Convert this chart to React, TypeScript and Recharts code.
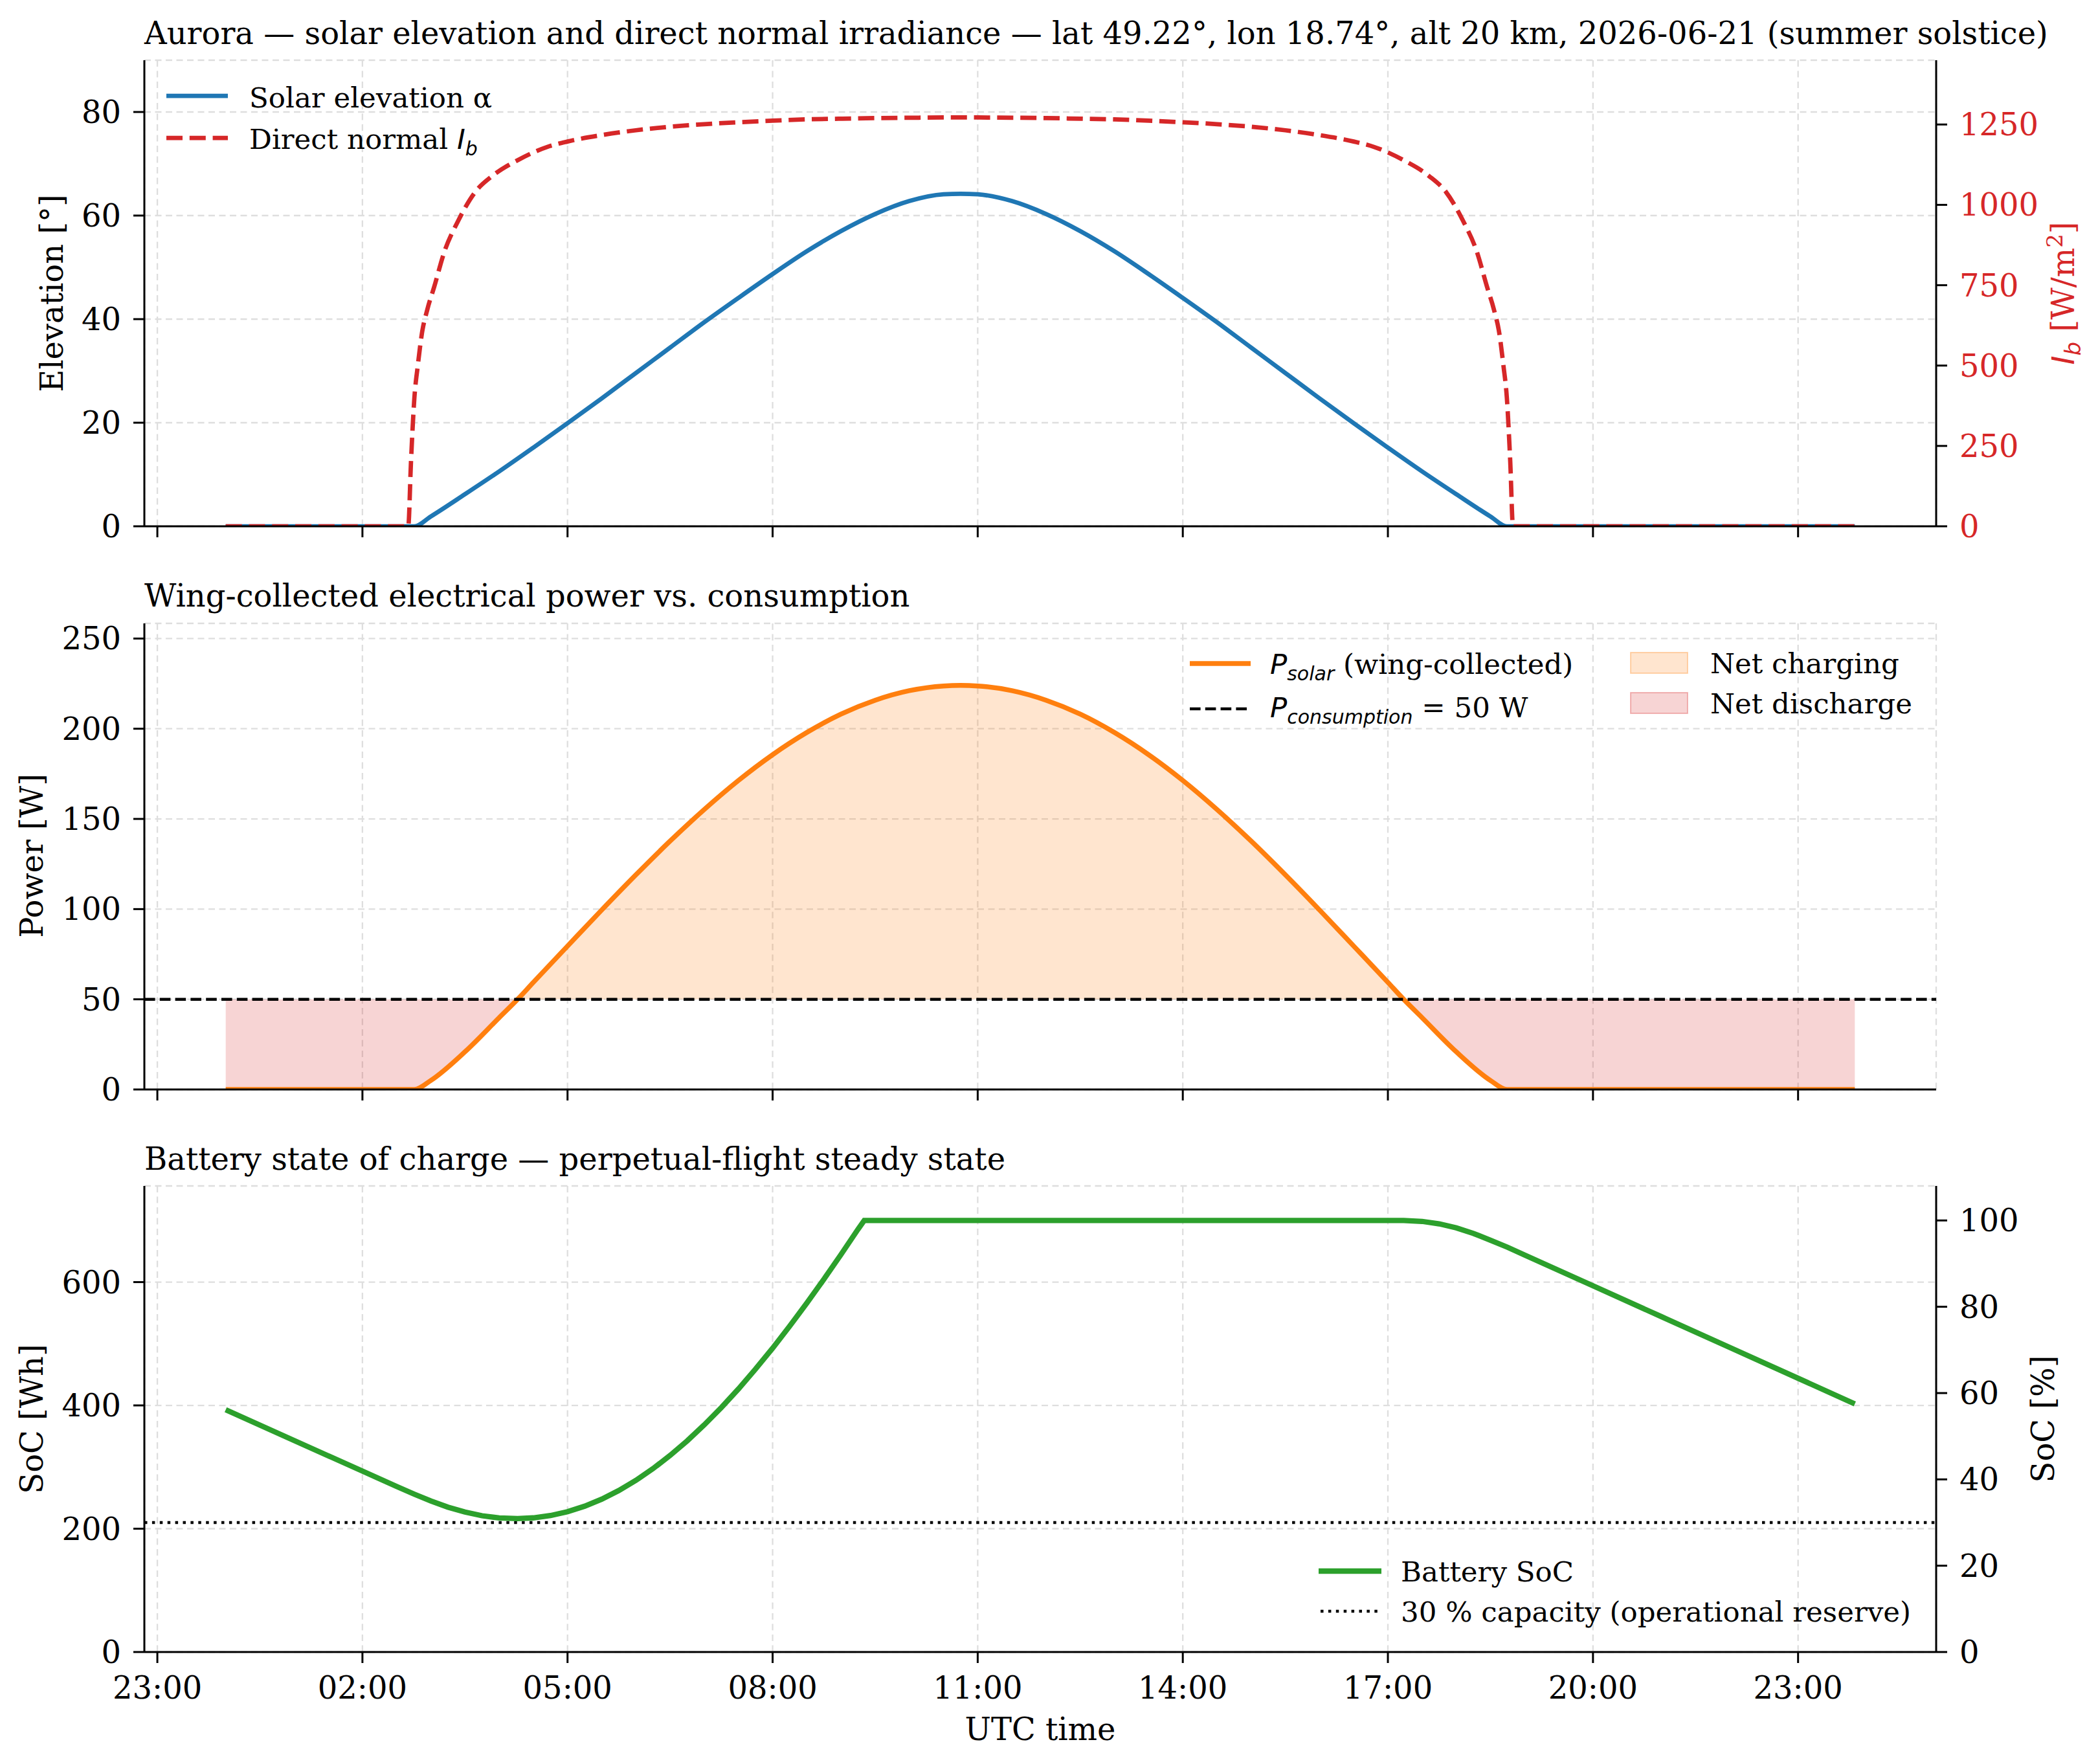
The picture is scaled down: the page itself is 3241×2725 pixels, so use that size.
import { ComposedChart, Line, Area, XAxis, YAxis, CartesianGrid, ReferenceLine } from "recharts";

// time axis (hours UTC on 2026-06-21)
const hourTicks = [-1, 2, 5, 8, 11, 14, 17, 20, 23];
const hourLabels = ["23:00", "02:00", "05:00", "08:00", "11:00", "14:00", "17:00", "20:00", "23:00"];

// solar elevation [deg]
const elevT = [0, 1, 2, 2.5, 2.76, 3, 3.5, 4, 4.5, 5, 5.5, 6, 6.5, 7, 7.5, 8, 8.5, 9, 9.5, 10, 10.5, 10.75, 11, 11.5, 12, 12.5, 13, 13.5, 14, 14.5, 15, 15.5, 16, 16.5, 17, 17.5, 18, 18.5, 18.74, 19, 20, 21, 22, 23, 23.83];
const elevDeg = [0, 0, 0, 0, 0, 1.9, 6.2, 10.6, 15.2, 19.9, 24.7, 29.6, 34.5, 39.4, 44.1, 48.7, 53.1, 57.0, 60.3, 62.8, 64.1, 64.2, 64.1, 62.8, 60.3, 57.0, 53.1, 48.7, 44.1, 39.4, 34.5, 29.6, 24.7, 19.9, 15.2, 10.6, 6.2, 1.9, 0, 0, 0, 0, 0, 0, 0];

// direct normal irradiance [W/m2]
const ibT = [0, 1, 2, 2.5, 2.67, 2.71, 2.76, 2.81, 2.87, 2.95, 3.05, 3.2, 3.4, 3.65, 3.9, 4.28, 4.7, 5, 5.5, 6, 6.5, 7, 7.5, 8, 8.5, 9, 9.5, 10, 10.75, 11.5, 12, 12.5, 13, 13.5, 14, 14.5, 15, 15.5, 16, 16.5, 16.8, 17.22, 17.6, 17.85, 18.1, 18.3, 18.45, 18.55, 18.63, 18.69, 18.74, 18.79, 18.83, 19, 20, 21, 22, 23, 23.83];
const ibVal = [0, 0, 0, 0, 0, 200, 400, 500, 600, 675, 745, 855, 950, 1040, 1090, 1140, 1180, 1197, 1217, 1232, 1243, 1251, 1257, 1262, 1266, 1268, 1270, 1271, 1272, 1271, 1270, 1268, 1266, 1262, 1257, 1251, 1243, 1232, 1217, 1197, 1180, 1140, 1090, 1040, 950, 855, 745, 675, 600, 500, 400, 200, 0, 0, 0, 0, 0, 0, 0];

// wing-collected power [W]
const powerT = [0, 1, 2, 2.5, 2.76, 3, 3.5, 4, 4.27, 4.5, 5, 5.5, 6, 6.5, 7, 7.5, 8, 8.5, 9, 9.5, 10, 10.5, 10.75, 11, 11.5, 12, 12.5, 13, 13.5, 14, 14.5, 15, 15.5, 16, 16.5, 17, 17.23, 17.5, 18, 18.5, 18.74, 19, 20, 21, 22, 23, 23.83];
const powerW = [0, 0, 0, 0, 0, 5.0, 20.9, 39.8, 50, 59.4, 79.5, 99.5, 119.0, 137.7, 155.2, 171.3, 185.6, 197.9, 208.1, 215.8, 221.1, 223.7, 224.0, 223.7, 221.1, 215.8, 208.1, 197.9, 185.6, 171.3, 155.2, 137.7, 119.0, 99.5, 79.5, 59.4, 50, 39.8, 20.9, 5.0, 0, 0, 0, 0, 0, 0, 0];
const P_CONSUMPTION = 50;

// battery state of charge [Wh]
const socT = [0, 1, 2, 2.5, 2.76, 3, 3.25, 3.5, 3.75, 4, 4.27, 4.5, 4.75, 5, 5.25, 5.5, 5.75, 6, 6.25, 6.5, 6.75, 7, 7.25, 7.5, 7.75, 8, 8.25, 8.5, 8.75, 9, 9.25, 9.34, 10, 12, 14, 16, 17, 17.23, 17.5, 17.75, 18, 18.25, 18.5, 18.75, 19, 20, 21, 22, 23, 23.83];
const socWh = [393, 343, 293.5, 268.5, 256, 245, 235, 227, 221, 217.5, 216.5, 217.6, 221.3, 227.6, 236.5, 247.9, 261.9, 278.4, 297.4, 318.8, 342.5, 368.4, 396.5, 426.7, 458.9, 492.8, 528.6, 565.9, 604.6, 644.7, 685.9, 700, 700, 700, 700, 700, 700, 700, 698.5, 694.5, 688, 679, 668, 656.5, 644, 594, 544, 494, 444, 402.5];
const CAPACITY = 700;
const RESERVE = 0.3 * CAPACITY;

const elevTicks = [0, 20, 40, 60, 80];
const ibTicks = [0, 250, 500, 750, 1000, 1250];
const powerTicks = [0, 50, 100, 150, 200, 250];
const socTicks = [0, 200, 400, 600];
const pctTicks = [0, 20, 40, 60, 80, 100];

const BLUE = "#1f77b4";
const RED = "#d62728";
const ORANGE = "#ff7f0e";
const GREEN = "#2ca02c";
const SERIF = "DejaVu Serif";
const MATH = "DejaVu Sans";

const elevRows = elevT.map((t, i) => ({ t, v: elevDeg[i] }));
const ibRows = ibT.map((t, i) => ({ t, v: ibVal[i] }));
const powerRows = powerT.map((t, i) => ({ t, v: powerW[i] }));
const chargeRows = powerT.map((t, i) => ({ t, range: [P_CONSUMPTION, Math.max(P_CONSUMPTION, powerW[i])] }));
const dischargeRows = powerT.map((t, i) => ({ t, range: [Math.min(P_CONSUMPTION, powerW[i]), P_CONSUMPTION] }));
const socRows = socT.map((t, i) => ({ t, v: socWh[i] }));
const pctRows = socT.map((t, i) => ({ t, v: (socWh[i] / CAPACITY) * 100 }));

const W = 3241;
const LEFT_W = 223;
const RIGHT_W = 250;
const tickStyle = { fontSize: 48, fontFamily: SERIF, fill: "#000" };
const axisStroke = { stroke: "#000", strokeWidth: 3 };

function timeAxis(showLabels: boolean, height: number) {
  return (
    <XAxis
      dataKey="t"
      type="number"
      domain={[-1.19, 25.02]}
      allowDataOverflow
      ticks={hourTicks}
      tickFormatter={(v: number) => (showLabels ? hourLabels[hourTicks.indexOf(v)] : "")}
      tick={tickStyle}
      tickSize={17}
      tickMargin={21}
      height={height}
      axisLine={axisStroke}
      tickLine={axisStroke}
      interval={0}
    />
  );
}

const grid = (
  <CartesianGrid yAxisId="l" stroke="#dedede" strokeWidth={2.3} strokeDasharray="10 6.5" />
);

function ElevationPanel() {
  return (
    <ComposedChart width={W} height={873} margin={{ top: 93, right: 0, bottom: 0, left: 0 }}>
      {grid}
      {timeAxis(false, 60)}
      <YAxis yAxisId="l" type="number" domain={[0, 90]} ticks={elevTicks} allowDataOverflow width={LEFT_W}
        tick={tickStyle} tickSize={17} tickMargin={19} axisLine={axisStroke} tickLine={axisStroke} />
      <YAxis yAxisId="r" orientation="right" type="number" domain={[0, 1450]} ticks={ibTicks} allowDataOverflow width={RIGHT_W}
        tick={{ ...tickStyle, fill: RED }} tickSize={17} tickMargin={19} axisLine={axisStroke} tickLine={axisStroke} />
      <Line data={elevRows} yAxisId="l" dataKey="v" type="monotone" stroke={BLUE} strokeWidth={6.75} dot={false} isAnimationActive={false} />
      <Line data={ibRows} yAxisId="r" dataKey="v" type="monotone" stroke={RED} strokeWidth={6.75} strokeDasharray="25 10.8" dot={false} isAnimationActive={false} />
    </ComposedChart>
  );
}

function PowerPanel() {
  return (
    <ComposedChart width={W} height={873} margin={{ top: 93, right: RIGHT_W, bottom: 0, left: 0 }}>
      {grid}
      {timeAxis(false, 60)}
      <YAxis yAxisId="l" type="number" domain={[0, 258.4]} ticks={powerTicks} allowDataOverflow width={LEFT_W}
        tick={tickStyle} tickSize={17} tickMargin={19} axisLine={axisStroke} tickLine={axisStroke} />
      <Area data={chargeRows} yAxisId="l" dataKey="range" type="monotone" fill={ORANGE} fillOpacity={0.2} stroke="none" isAnimationActive={false} />
      <Area data={dischargeRows} yAxisId="l" dataKey="range" type="monotone" fill={RED} fillOpacity={0.2} stroke="none" isAnimationActive={false} />
      <Line data={powerRows} yAxisId="l" dataKey="v" type="monotone" stroke={ORANGE} strokeWidth={7.5} dot={false} isAnimationActive={false} />
      <ReferenceLine yAxisId="l" y={P_CONSUMPTION} stroke="#000" strokeWidth={4.5} strokeDasharray="16.6 7.2" />
    </ComposedChart>
  );
}

function SocPanel() {
  return (
    <ComposedChart width={W} height={963} margin={{ top: 93, right: 0, bottom: 0, left: 0 }}>
      {grid}
      {timeAxis(true, 150)}
      <YAxis yAxisId="l" type="number" domain={[0, 756]} ticks={socTicks} allowDataOverflow width={LEFT_W}
        tick={tickStyle} tickSize={17} tickMargin={19} axisLine={axisStroke} tickLine={axisStroke} />
      <YAxis yAxisId="r" orientation="right" type="number" domain={[0, 108]} ticks={pctTicks} allowDataOverflow width={RIGHT_W}
        tick={tickStyle} tickSize={17} tickMargin={19} axisLine={axisStroke} tickLine={axisStroke} />
      <Line data={pctRows} yAxisId="r" dataKey="v" type="linear" stroke="none" dot={false} isAnimationActive={false} />
      <ReferenceLine yAxisId="l" y={RESERVE} stroke="#000" strokeWidth={4.5} strokeDasharray="4.5 7.4" />
      <Line data={socRows} yAxisId="l" dataKey="v" type="linear" stroke={GREEN} strokeWidth={8.3} dot={false} isAnimationActive={false} />
    </ComposedChart>
  );
}

function Sub({ children, size = 30, shift = 10 }: { children: string; size?: number; shift?: number }) {
  return (
    <tspan fontFamily={MATH} fontStyle="italic" fontSize={size} dy={shift}>
      {children}
    </tspan>
  );
}

function Overlay() {
  const title = { fontFamily: SERIF, fontSize: 48, fill: "#000" };
  const label = { fontFamily: SERIF, fontSize: 48, fill: "#000" };
  const leg = { fontFamily: SERIF, fontSize: 43.5, fill: "#000" };
  return (
    <svg width={W} height={2725} style={{ position: "absolute", left: 0, top: 0, pointerEvents: "none" }}>
      <text x={223} y={68} {...title}>
        Aurora — solar elevation and direct normal irradiance — lat 49.22°, lon 18.74°, alt 20 km, 2026-06-21 (summer solstice)
      </text>
      <text x={223} y={937} {...title}>Wing-collected electrical power vs. consumption</text>
      <text x={223} y={1807} {...title}>Battery state of charge — perpetual-flight steady state</text>

      <text transform="translate(97,453) rotate(-90)" textAnchor="middle" {...label}>Elevation [°]</text>
      <text transform="translate(66,1322) rotate(-90)" textAnchor="middle" {...label}>Power [W]</text>
      <text transform="translate(66,2192) rotate(-90)" textAnchor="middle" {...label}>SoC [Wh]</text>
      <text transform="translate(3204,453) rotate(-90)" textAnchor="middle" {...label} fill={RED}>
        <tspan fontFamily={MATH} fontStyle="italic">I</tspan>
        <tspan fontFamily={MATH} fontStyle="italic" fontSize={34} dy={10}>b</tspan>
        <tspan dy={-10}> [W/m</tspan>
        <tspan fontSize={34} dy={-18}>2</tspan>
        <tspan dy={18}>]</tspan>
      </text>
      <text transform="translate(3173,2192) rotate(-90)" textAnchor="middle" {...label}>SoC [%]</text>
      <text x={1607} y={2688} textAnchor="middle" {...label}>UTC time</text>

      {/* legend: elevation panel */}
      <line x1={257} x2={352} y1={148} y2={148} stroke={BLUE} strokeWidth={6.75} />
      <text x={385} y={166} {...leg}>Solar elevation α</text>
      <line x1={257} x2={352} y1={213} y2={213} stroke={RED} strokeWidth={6.75} strokeDasharray="25 10.8" />
      <text x={385} y={230} {...leg}>
        Direct normal <tspan fontFamily={MATH} fontStyle="italic">I</tspan>
        <Sub>b</Sub>
      </text>

      {/* legend: power panel */}
      <line x1={1838} x2={1932} y1={1025} y2={1025} stroke={ORANGE} strokeWidth={7.5} />
      <text x={1962} y={1041} {...leg}>
        <tspan fontFamily={MATH} fontStyle="italic">P</tspan>
        <Sub>solar</Sub>
        <tspan dy={-10}> (wing-collected)</tspan>
      </text>
      <line x1={1838} x2={1932} y1={1095} y2={1095} stroke="#000" strokeWidth={4.5} strokeDasharray="16.6 7.2" />
      <text x={1962} y={1108} {...leg}>
        <tspan fontFamily={MATH} fontStyle="italic">P</tspan>
        <Sub>consumption</Sub>
        <tspan dy={-10}> = 50 W</tspan>
      </text>
      <rect x={2519} y={1008} width={88} height={32} fill={ORANGE} fillOpacity={0.2} stroke={ORANGE} strokeOpacity={0.3} strokeWidth={2} />
      <text x={2642} y={1040} {...leg}>Net charging</text>
      <rect x={2519} y={1070} width={88} height={32} fill={RED} fillOpacity={0.2} stroke={RED} strokeOpacity={0.3} strokeWidth={2} />
      <text x={2642} y={1102} {...leg}>Net discharge</text>

      {/* legend: SoC panel */}
      <line x1={2037} x2={2134} y1={2427} y2={2427} stroke={GREEN} strokeWidth={8.3} />
      <text x={2164} y={2443} {...leg}>Battery SoC</text>
      <line x1={2040} x2={2134} y1={2489} y2={2489} stroke="#000" strokeWidth={4.5} strokeDasharray="4.5 7.4" />
      <text x={2164} y={2505} {...leg}>30 % capacity (operational reserve)</text>
    </svg>
  );
}

export default function App() {
  return (
    <div style={{ position: "absolute", left: 0, top: 0, width: W, height: 2725, background: "#fff" }}>
      <div style={{ position: "absolute", left: 0, top: 0 }}>
        <ElevationPanel />
      </div>
      <div style={{ position: "absolute", left: 0, top: 869.5 }}>
        <PowerPanel />
      </div>
      <div style={{ position: "absolute", left: 0, top: 1739 }}>
        <SocPanel />
      </div>
      <Overlay />
    </div>
  );
}
